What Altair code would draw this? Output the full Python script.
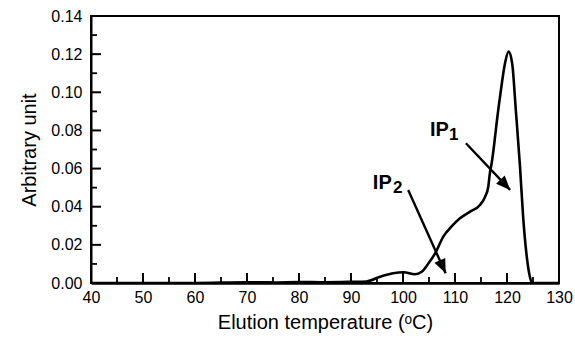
import altair as alt
import pandas as pd
import math

temp = [40, 60, 70, 75, 80, 85, 90, 93.0, 95.6, 98.1, 100.1, 102.3, 103.6, 104.9, 106.2, 107.75, 109.3, 110.96,
        112.9, 114.8, 115.8, 116.4, 116.7, 117.05, 117.4, 117.8, 118.1, 118.7, 119.6, 120.3, 121.0, 121.7,
        122.5, 123.1, 123.8, 124.4, 124.9, 126, 130]
signal = [0.0, 0.0, 0.0004, 0.0003, 0.0005, 0.0004, 0.0006, 0.0008, 0.0033, 0.0051, 0.0056, 0.0046, 0.0059,
          0.0103, 0.0156, 0.0243, 0.0295, 0.0339, 0.0374, 0.0409, 0.0453, 0.0505, 0.0575, 0.0628, 0.0697,
          0.079, 0.086, 0.0985, 0.115, 0.1213, 0.115, 0.0905, 0.061, 0.0348, 0.0138, 0.0033, 0.0, 0.0, 0.0]

x_major = [40, 50, 60, 70, 80, 90, 100, 110, 120, 130]
x_minor = [45, 55, 65, 75, 85, 95, 105, 115, 125]
y_major = [0.0, 0.02, 0.04, 0.06, 0.08, 0.10, 0.12, 0.14]
y_minor = [0.01, 0.03, 0.05, 0.07, 0.09, 0.11, 0.13]

arrow_names = ["IP1", "IP2"]
arrow_x0 = [112.1, 101.0]
arrow_y0 = [0.0733, 0.0488]
arrow_x1 = [120.6, 108.2]
arrow_y1 = [0.0488, 0.0051]

lab_main = ["IP", "IP"]
lab_x = [105.2, 94.2]
lab_y = [0.0771, 0.0491]
sub_text = ["1", "2"]
sub_x = [108.85, 98.1]
sub_y = [0.0750, 0.0472]

W, H = 468, 267
XMIN, XMAX, YMIN, YMAX = 40, 130, 0.0, 0.14

curve = pd.DataFrame({"t": temp, "v": signal})
xs = alt.Scale(domain=[XMIN, XMAX], nice=False, zero=False)
ys = alt.Scale(domain=[YMIN, YMAX], nice=False)

FONT = "Liberation Sans"

x_axis = alt.Axis(values=x_major, format="d", title="Elution temperature (ᵒC)", tickSize=0,
                  labelPadding=6, titlePadding=7, domainWidth=2.5, domainColor="black",
                  grid=False, labelFontSize=16, titleFontSize=20, labelColor="black",
                  titleColor="black", titleFontWeight="normal", labelFont=FONT, titleFont=FONT,
                  labelOverlap=False, labelFlush=False)
y_axis = alt.Axis(values=y_major, format=".2f", title="Arbitrary unit", tickSize=0,
                  labelPadding=9, titlePadding=11, domainWidth=2, domainColor="black",
                  grid=False, labelFontSize=16, titleFontSize=20, labelColor="black",
                  titleColor="black", titleFontWeight="normal", labelFont=FONT, titleFont=FONT,
                  labelOverlap=False, labelFlush=False)


def X(field):
    return alt.X(field, scale=xs, axis=x_axis, title="Elution temperature (ᵒC)")


def Y(field):
    return alt.Y(field, scale=ys, axis=y_axis, title="Arbitrary unit")


line = alt.Chart(curve).mark_line(color="black", strokeWidth=2.6, interpolate="monotone", clip=True).encode(
    x=X("t:Q"), y=Y("v:Q"))

# inward ticks built from tick value lists (lengths in data units)
xtick_len_major = 10 * (YMAX - YMIN) / H
xtick_len_minor = 6 * (YMAX - YMIN) / H
ytick_len_major = 10 * (XMAX - XMIN) / W
ytick_len_minor = 6 * (XMAX - XMIN) / W

xmaj = pd.DataFrame({"t": x_major, "y0": 0.0, "y1": xtick_len_major})
xmin_ = pd.DataFrame({"t": x_minor, "y0": 0.0, "y1": xtick_len_minor})
ymaj = pd.DataFrame({"v": y_major, "x0": XMIN, "x1": XMIN + ytick_len_major})
ymin_ = pd.DataFrame({"v": y_minor, "x0": XMIN, "x1": XMIN + ytick_len_minor})

xt1 = alt.Chart(xmaj).mark_rule(color="black", strokeWidth=2).encode(
    x=X("t:Q"), y=Y("y0:Q"), y2="y1:Q")
xt2 = alt.Chart(xmin_).mark_rule(color="black", strokeWidth=1.8).encode(
    x=X("t:Q"), y=Y("y0:Q"), y2="y1:Q")
yt1 = alt.Chart(ymaj).mark_rule(color="black", strokeWidth=2).encode(
    y=Y("v:Q"), x=X("x0:Q"), x2="x1:Q")
yt2 = alt.Chart(ymin_).mark_rule(color="black", strokeWidth=1.8).encode(
    y=Y("v:Q"), x=X("x0:Q"), x2="x1:Q")

# arrows
arr = pd.DataFrame({"name": arrow_names, "x0": arrow_x0, "y0": arrow_y0, "x1": arrow_x1, "y1": arrow_y1})
sx = W / (XMAX - XMIN)
sy = H / (YMAX - YMIN)
arr["ang"] = [
    (math.degrees(math.atan2((b - a) * sx, (d - c) * sy)) % 360)
    for a, b, c, d in zip(arrow_x0, arrow_x1, arrow_y0, arrow_y1)
]
shafts = alt.Chart(arr).mark_rule(color="black", strokeWidth=2.4).encode(
    x=X("x0:Q"), y=Y("y0:Q"), x2="x1:Q", y2="y1:Q")
heads = alt.Chart(arr).mark_point(
    shape="M0,0 L-0.42,1 L0.42,1 Z", filled=True, color="black", opacity=1, size=800, strokeWidth=0
).encode(x=X("x1:Q"), y=Y("y1:Q"), angle=alt.Angle("ang:Q", scale=None))

labs = pd.DataFrame({"txt": lab_main, "x": lab_x, "y": lab_y})
subs = pd.DataFrame({"txt": sub_text, "x": sub_x, "y": sub_y})
t_main = alt.Chart(labs).mark_text(align="left", baseline="alphabetic", fontSize=20, fontWeight="bold",
                                   font=FONT, color="black").encode(
    x=X("x:Q"), y=Y("y:Q"), text="txt:N")
t_sub = alt.Chart(subs).mark_text(align="left", baseline="alphabetic", fontSize=17, fontWeight="bold",
                                  font=FONT, color="black").encode(
    x=X("x:Q"), y=Y("y:Q"), text="txt:N")

chart = alt.layer(line, xt1, xt2, yt1, yt2, shafts, heads, t_main, t_sub).properties(
    width=W, height=H,
    autosize=alt.AutoSizeParams(type="none"),
    padding={"left": 91, "top": 16, "right": 16, "bottom": 55},
    background="white",
).configure_view(stroke="black", strokeWidth=2)

chart.save("out.html", embed_options={"renderer": "svg", "actions": False})
